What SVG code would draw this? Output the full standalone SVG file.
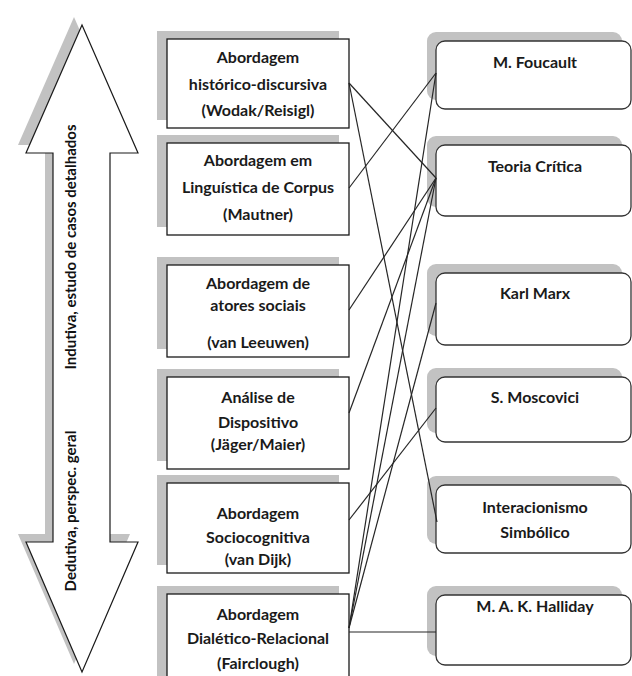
<svg xmlns="http://www.w3.org/2000/svg" width="632" height="676" viewBox="0 0 632 676">
  <style>
    .shadow { fill: #c2c2c2; stroke: none; }
    .box { fill: #ffffff; stroke: #1a1a1a; stroke-width: 1.3; }
    .rbox { fill: #ffffff; stroke: #333333; stroke-width: 1.3; }
    .lbl { font-family: Lato, "Liberation Sans", sans-serif; font-weight: bold; font-size: 16px; fill: #1a1a1a; text-anchor: middle; }
    .axis { font-family: Lato, "Liberation Sans", sans-serif; font-weight: bold; font-size: 15px; fill: #111111; text-anchor: middle; }
    .link { stroke: #262626; stroke-width: 1.2; fill: none; }
  </style>
  <defs>
    <polygon id="dblArrow" points="82,25 138,153 110,153 110,542 138,542 82,672 26,542 53,542 53,153 26,153"/>
  </defs>
  <rect width="632" height="676" fill="#ffffff"/>

  <!-- vertical double arrow with axis labels -->
  <g id="axis-arrow">
    <use href="#dblArrow" class="shadow" transform="translate(-8,-8)"/>
    <use href="#dblArrow" fill="#ffffff" stroke="#1a1a1a" stroke-width="1.2"/>
    <text class="axis" transform="translate(76,247) rotate(-90)">Indutiva, estudo de casos detalhados</text>
    <text class="axis" transform="translate(76,511) rotate(-90)">Dedutiva, perspec. geral</text>
  </g>

  <!-- approaches (left column) -->
  <g id="n-historico">
    <rect class="shadow" x="157" y="31" width="182" height="89"/>
    <rect class="box" x="167" y="39" width="182" height="89"/>
    <text class="lbl" x="258" y="63">Abordagem</text>
    <text class="lbl" x="258" y="90">histórico-discursiva</text>
    <text class="lbl" x="258" y="116">(Wodak/Reisigl)</text>
  </g>
  <g id="n-corpus">
    <rect class="shadow" x="157" y="135" width="182" height="92"/>
    <rect class="box" x="167" y="143" width="182" height="92"/>
    <text class="lbl" x="258" y="166">Abordagem em</text>
    <text class="lbl" x="258" y="193">Linguística de Corpus</text>
    <text class="lbl" x="258" y="220">(Mautner)</text>
  </g>
  <g id="n-atores">
    <rect class="shadow" x="157" y="257" width="182" height="92"/>
    <rect class="box" x="167" y="265" width="182" height="92"/>
    <text class="lbl" x="258" y="289">Abordagem de</text>
    <text class="lbl" x="258" y="311">atores sociais</text>
    <text class="lbl" x="258" y="348">(van Leeuwen)</text>
  </g>
  <g id="n-dispositivo">
    <rect class="shadow" x="157" y="369" width="182" height="92"/>
    <rect class="box" x="167" y="377" width="182" height="92"/>
    <text class="lbl" x="258" y="403">Análise de</text>
    <text class="lbl" x="258" y="428">Dispositivo</text>
    <text class="lbl" x="258" y="450">(Jäger/Maier)</text>
  </g>
  <g id="n-sociocognitiva">
    <rect class="shadow" x="157" y="475" width="182" height="90"/>
    <rect class="box" x="167" y="483" width="182" height="90"/>
    <text class="lbl" x="258" y="519">Abordagem</text>
    <text class="lbl" x="258" y="543">Sociocognitiva</text>
    <text class="lbl" x="258" y="565">(van Dijk)</text>
  </g>
  <g id="n-dialetico">
    <rect class="shadow" x="157" y="586" width="182" height="100"/>
    <rect class="box" x="167" y="594" width="182" height="100"/>
    <text class="lbl" x="258" y="620">Abordagem</text>
    <text class="lbl" x="258" y="644">Dialético-Relacional</text>
    <text class="lbl" x="258" y="669">(Fairclough)</text>
  </g>

  <!-- theoretical roots (right column) -->
  <g id="n-foucault">
    <rect class="shadow" x="427" y="32" width="195" height="68" rx="9"/>
    <rect class="rbox" x="436" y="41" width="195" height="68" rx="9"/>
    <text class="lbl" x="535" y="68">M. Foucault</text>
  </g>
  <g id="n-teoria-critica">
    <rect class="shadow" x="427" y="136" width="195" height="71" rx="9"/>
    <rect class="rbox" x="436" y="145" width="195" height="71" rx="9"/>
    <text class="lbl" x="535" y="172">Teoria Crítica</text>
  </g>
  <g id="n-marx">
    <rect class="shadow" x="427" y="264" width="195" height="72" rx="9"/>
    <rect class="rbox" x="436" y="273" width="195" height="72" rx="9"/>
    <text class="lbl" x="535" y="299">Karl Marx</text>
  </g>
  <g id="n-moscovici">
    <rect class="shadow" x="427" y="368" width="195" height="65" rx="9"/>
    <rect class="rbox" x="436" y="377" width="195" height="65" rx="9"/>
    <text class="lbl" x="535" y="403">S. Moscovici</text>
  </g>
  <g id="n-interacionismo">
    <rect class="shadow" x="427" y="476" width="195" height="68" rx="9"/>
    <rect class="rbox" x="436" y="485" width="195" height="68" rx="9"/>
    <text class="lbl" x="535" y="513">Interacionismo</text>
    <text class="lbl" x="535" y="538">Simbólico</text>
  </g>
  <g id="n-halliday">
    <rect class="shadow" x="427" y="586" width="195" height="70" rx="9"/>
    <rect class="rbox" x="436" y="595" width="195" height="70" rx="9"/>
    <text class="lbl" x="535" y="612">M. A. K. Halliday</text>
  </g>

  <!-- connectors -->
  <g id="connectors" class="link">
    <line x1="349" y1="83" x2="436" y2="178"/>
    <line x1="349" y1="83" x2="437" y2="522"/>
    <line x1="349" y1="188" x2="436" y2="73"/>
    <line x1="349" y1="310" x2="436" y2="178"/>
    <line x1="349" y1="413" x2="436" y2="178"/>
    <line x1="349" y1="520" x2="436" y2="408"/>
    <line x1="349" y1="628" x2="436" y2="73"/>
    <line x1="349" y1="628" x2="436" y2="178"/>
    <line x1="349" y1="628" x2="436" y2="303"/>
    <line x1="349" y1="632" x2="436" y2="632"/>
  </g>
</svg>
